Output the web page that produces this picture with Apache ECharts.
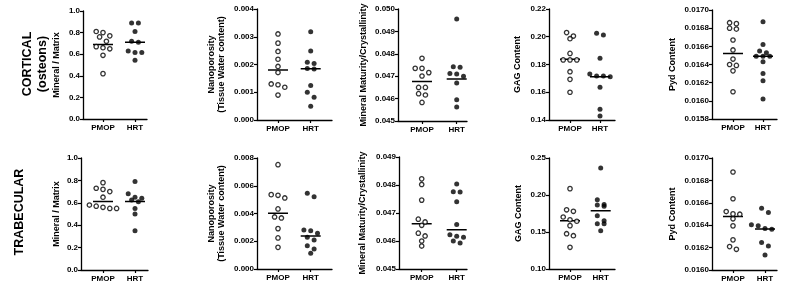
<!DOCTYPE html>
<html>
<head>
<meta charset="UTF-8">
<title>PMOP vs HRT</title>
<script src="https://cdn.jsdelivr.net/npm/echarts@6/dist/echarts.min.js"></script>
<style>
body{margin:0;background:#fff;}
#main{width:791px;height:287px;}
</style>
</head>
<body>
<div id="main"></div>
<script type="text/javascript">
var groups = ['PMOP', 'HRT'];
var rowTitles = ['CORTICAL\n(osteons)', 'TRABECULAR'];
var yTitles = ['Mineral / Matrix', 'Nanoporosity\n(Tissue Water content)', 'Mineral Maturity/Crystallinity', 'GAG Content', 'Pyd Content'];

// cortical (osteons)
var cMinMatPMOP = [0.81, 0.80, 0.77, 0.76, 0.72, 0.67, 0.66, 0.65, 0.59, 0.42];
var cMinMatHRT  = [0.89, 0.89, 0.81, 0.72, 0.71, 0.63, 0.615, 0.615, 0.545];
var cNanoPMOP = [0.0031, 0.00277, 0.00247, 0.00219, 0.00193, 0.00171, 0.0013, 0.00127, 0.00118, 0.0009];
var cNanoHRT  = [0.00318, 0.00249, 0.00208, 0.00204, 0.00186, 0.00184, 0.00124, 0.0010, 0.00082, 0.0005];
var cMatPMOP = [0.0478, 0.04735, 0.04735, 0.04716, 0.04701, 0.0465, 0.0465, 0.04622, 0.04616, 0.04583];
var cMatHRT  = [0.04955, 0.04742, 0.0474, 0.04712, 0.0471, 0.0470, 0.0467, 0.04595, 0.04563];
var cGagPMOP = [0.203, 0.2005, 0.1986, 0.188, 0.1833, 0.1833, 0.1833, 0.1748, 0.1693, 0.160];
var cGagHRT  = [0.2025, 0.2013, 0.1845, 0.1732, 0.1717, 0.1717, 0.1712, 0.1636, 0.1477, 0.1429];
var cPydPMOP = [0.01686, 0.01685, 0.0168, 0.01679, 0.01667, 0.01656, 0.01646, 0.0164, 0.01639, 0.01633, 0.0161];
var cPydHRT  = [0.01687, 0.01662, 0.01655, 0.01653, 0.01649, 0.01649, 0.01649, 0.01643, 0.0163, 0.01622, 0.01602];

// trabecular
var tMinMatPMOP = [0.78, 0.73, 0.72, 0.70, 0.65, 0.58, 0.57, 0.56, 0.55, 0.55];
var tMinMatHRT  = [0.79, 0.68, 0.65, 0.64, 0.625, 0.61, 0.55, 0.50, 0.35];
var tNanoPMOP = [0.00752, 0.00536, 0.00531, 0.00512, 0.00433, 0.00375, 0.00368, 0.00291, 0.00224, 0.00156];
var tNanoHRT  = [0.00546, 0.00521, 0.00281, 0.00276, 0.00257, 0.00228, 0.00209, 0.00168, 0.00144, 0.00113];
var tMatPMOP = [0.04822, 0.04802, 0.04746, 0.04678, 0.04668, 0.04656, 0.04628, 0.04618, 0.046, 0.04582];
var tMatHRT  = [0.04804, 0.04776, 0.04775, 0.0474, 0.04659, 0.04622, 0.04617, 0.04613, 0.046, 0.04593];
var tGagPMOP = [0.2086, 0.18, 0.178, 0.1703, 0.1665, 0.1645, 0.1586, 0.1477, 0.145, 0.1293];
var tGagHRT  = [0.2365, 0.1937, 0.187, 0.1865, 0.1847, 0.172, 0.1653, 0.1613, 0.161, 0.1518];
var tPydPMOP = [0.016875, 0.016636, 0.016522, 0.016501, 0.016498, 0.016457, 0.016394, 0.016269, 0.016209, 0.016185];
var tPydHRT  = [0.016552, 0.016513, 0.016403, 0.016394, 0.01637, 0.016364, 0.01636, 0.016245, 0.016215, 0.016134];

// median bars [PMOP, HRT]
var cMedians = [[0.69, 0.71], [0.0018, 0.00185], [0.04676, 0.04688], [0.1837, 0.1712], [0.01652, 0.01649]];
var tMedians = [[0.612, 0.612], [0.00401, 0.00238], [0.04662, 0.0464], [0.1653, 0.1788], [0.016478, 0.016367]];

// y axis ticks: [min, max, step, decimals]
var yScales = [[0, 1, 0.2, 1], [0, 0.004, 0.001, 3], [0.045, 0.05, 0.001, 3], [0.14, 0.22, 0.02, 2], [0.0158, 0.017, 0.0002, 4]];
var yScalesT = [[0, 1, 0.2, 1], [0, 0.008, 0.002, 3], [0.045, 0.049, 0.001, 3], [0.10, 0.25, 0.05, 2], [0.016, 0.017, 0.0002, 4]];

// layout in px: axis x, top, height, PMOP x, HRT x, end x, name gap
var panels = [
	{ax: 83,  top: 11,  h: 108, p: 103,   r: 135,   end: 147, gap: 21, sc: yScales[0],  pm: cMinMatPMOP, hr: cMinMatHRT, med: cMedians[0], name: yTitles[0]},
	{ax: 257, top: 9,   h: 111, p: 278,   r: 310.7, end: 332, gap: 30, sc: yScales[1],  pm: cNanoPMOP,   hr: cNanoHRT,   med: cMedians[1], name: yTitles[1]},
	{ax: 398, top: 9,   h: 112, p: 422,   r: 456.7, end: 467, gap: 29, sc: yScales[2],  pm: cMatPMOP,    hr: cMatHRT,    med: cMedians[2], name: yTitles[2]},
	{ax: 549, top: 9,   h: 111, p: 570,   r: 600,   end: 615, gap: 26, sc: yScales[3],  pm: cGagPMOP,    hr: cGagHRT,    med: cMedians[3], name: yTitles[3]},
	{ax: 712, top: 10,  h: 109, p: 733,   r: 763,   end: 777, gap: 34, sc: yScales[4],  pm: cPydPMOP,    hr: cPydHRT,    med: cMedians[4], name: yTitles[4]},
	{ax: 81,  top: 158, h: 112, p: 103,   r: 135,   end: 148, gap: 19, sc: yScalesT[0], pm: tMinMatPMOP, hr: tMinMatHRT, med: tMedians[0], name: yTitles[0]},
	{ax: 257, top: 158, h: 111, p: 278,   r: 310.7, end: 332, gap: 30, sc: yScalesT[1], pm: tNanoPMOP,   hr: tNanoHRT,   med: tMedians[1], name: yTitles[1]},
	{ax: 399, top: 157, h: 112, p: 421.7, r: 456.7, end: 467, gap: 31, sc: yScalesT[2], pm: tMatPMOP,    hr: tMatHRT,    med: tMedians[2], name: yTitles[2]},
	{ax: 549, top: 158, h: 111, p: 570,   r: 600.7, end: 615, gap: 25, sc: yScalesT[3], pm: tGagPMOP,    hr: tGagHRT,    med: tMedians[3], name: yTitles[3]},
	{ax: 712, top: 158, h: 112, p: 733,   r: 765,   end: 777, gap: 34, sc: yScalesT[4], pm: tPydPMOP,    hr: tPydHRT,    med: tMedians[4], name: yTitles[4]}
];

var FONT = 'Liberation Sans, Arial, sans-serif';

// prism-like spread: points that overlap vertically go side by side
function swarm(vals, pn, center){
	var sc = pn.sc, unit = pn.r - pn.p;
	var pts = vals.map(function(v){ return {v: v, py: (sc[1] - v) / (sc[1] - sc[0]) * pn.h}; });
	pts.sort(function(a, b){ return a.py - b.py; });
	var rows = [];
	pts.forEach(function(pt){
		var row = rows[rows.length - 1];
		if(row && pt.py - row[0].py < 5) row.push(pt); else rows.push([pt]);
	});
	var out = [];
	rows.forEach(function(row){
		row.forEach(function(pt, i){
			out.push([center + (i - (row.length - 1) / 2) * 6.8 / unit, pt.v]);
		});
	});
	return out;
}

var grid = [], xAxis = [], yAxis = [], series = [];
panels.forEach(function(pn, k){
	var unit = pn.r - pn.p;
	grid.push({left: pn.ax, top: pn.top, width: pn.end - pn.ax, height: pn.h, containLabel: false, outerBoundsMode: 'none'});
	xAxis.push({
		type: 'value', gridIndex: k,
		min: 1 - (pn.p - pn.ax) / unit, max: 2 + (pn.end - pn.r) / unit,
		splitLine: {show: false},
		axisLine: {show: true, onZero: false, lineStyle: {color: '#000', width: 1.3}},
		axisTick: {show: true, length: 3, customValues: [1, 2], lineStyle: {color: '#000', width: 1.2}},
		axisLabel: {customValues: [1, 2], margin: 5, color: '#000', fontSize: 8, fontWeight: 'bold', fontFamily: FONT,
			formatter: function(v){ return groups[Math.round(v) - 1]; }}
	});
	yAxis.push({
		type: 'value', gridIndex: k,
		min: pn.sc[0], max: pn.sc[1], interval: pn.sc[2],
		name: pn.name, nameLocation: 'middle', nameGap: pn.gap,
		nameTextStyle: {color: '#000', fontSize: 9, fontWeight: 'bold', fontFamily: FONT, lineHeight: 10},
		splitLine: {show: false},
		axisLine: {show: true, lineStyle: {color: '#000', width: 1.3}},
		axisTick: {show: true, length: 3, lineStyle: {color: '#000', width: 1.2}},
		axisLabel: {margin: 3, color: '#000', fontSize: 8, fontWeight: 'bold', fontFamily: FONT,
			formatter: (function(d){ return function(v){ return v.toFixed(d); }; })(pn.sc[3])}
	});
	[0, 1].forEach(function(g){
		var hw = 10 / unit;
		series.push({
			type: 'line', xAxisIndex: k, yAxisIndex: k, z: 2, symbol: 'none', silent: true,
			lineStyle: {color: '#000', width: 1.5},
			data: [[g + 1 - hw, pn.med[g]], [g + 1 + hw, pn.med[g]]]
		});
	});
	series.push({
		type: 'scatter', name: groups[0], xAxisIndex: k, yAxisIndex: k, z: 3,
		symbolSize: 4.4, itemStyle: {color: '#fff', borderColor: '#000', borderWidth: 1.3},
		data: swarm(pn.pm, pn, 1)
	});
	series.push({
		type: 'scatter', name: groups[1], xAxisIndex: k, yAxisIndex: k, z: 3,
		symbolSize: 5, itemStyle: {color: '#000'},
		data: swarm(pn.hr, pn, 2)
	});
});

var myChart = echarts.init(document.getElementById('main'), null, {renderer: 'canvas'});
myChart.setOption({
	animation: false,
	backgroundColor: '#fff',
	grid: grid, xAxis: xAxis, yAxis: yAxis, series: series,
	graphic: [
		{type: 'text', x: 35, y: 64, rotation: Math.PI / 2,
			style: {text: rowTitles[0], fill: '#000', font: 'bold 12.5px ' + FONT, align: 'center', verticalAlign: 'middle', lineHeight: 15}},
		{type: 'text', x: 20, y: 212, rotation: Math.PI / 2,
			style: {text: rowTitles[1], fill: '#000', font: 'bold 12.5px ' + FONT, align: 'center', verticalAlign: 'middle'}}
	]
});
</script>
</body>
</html>
